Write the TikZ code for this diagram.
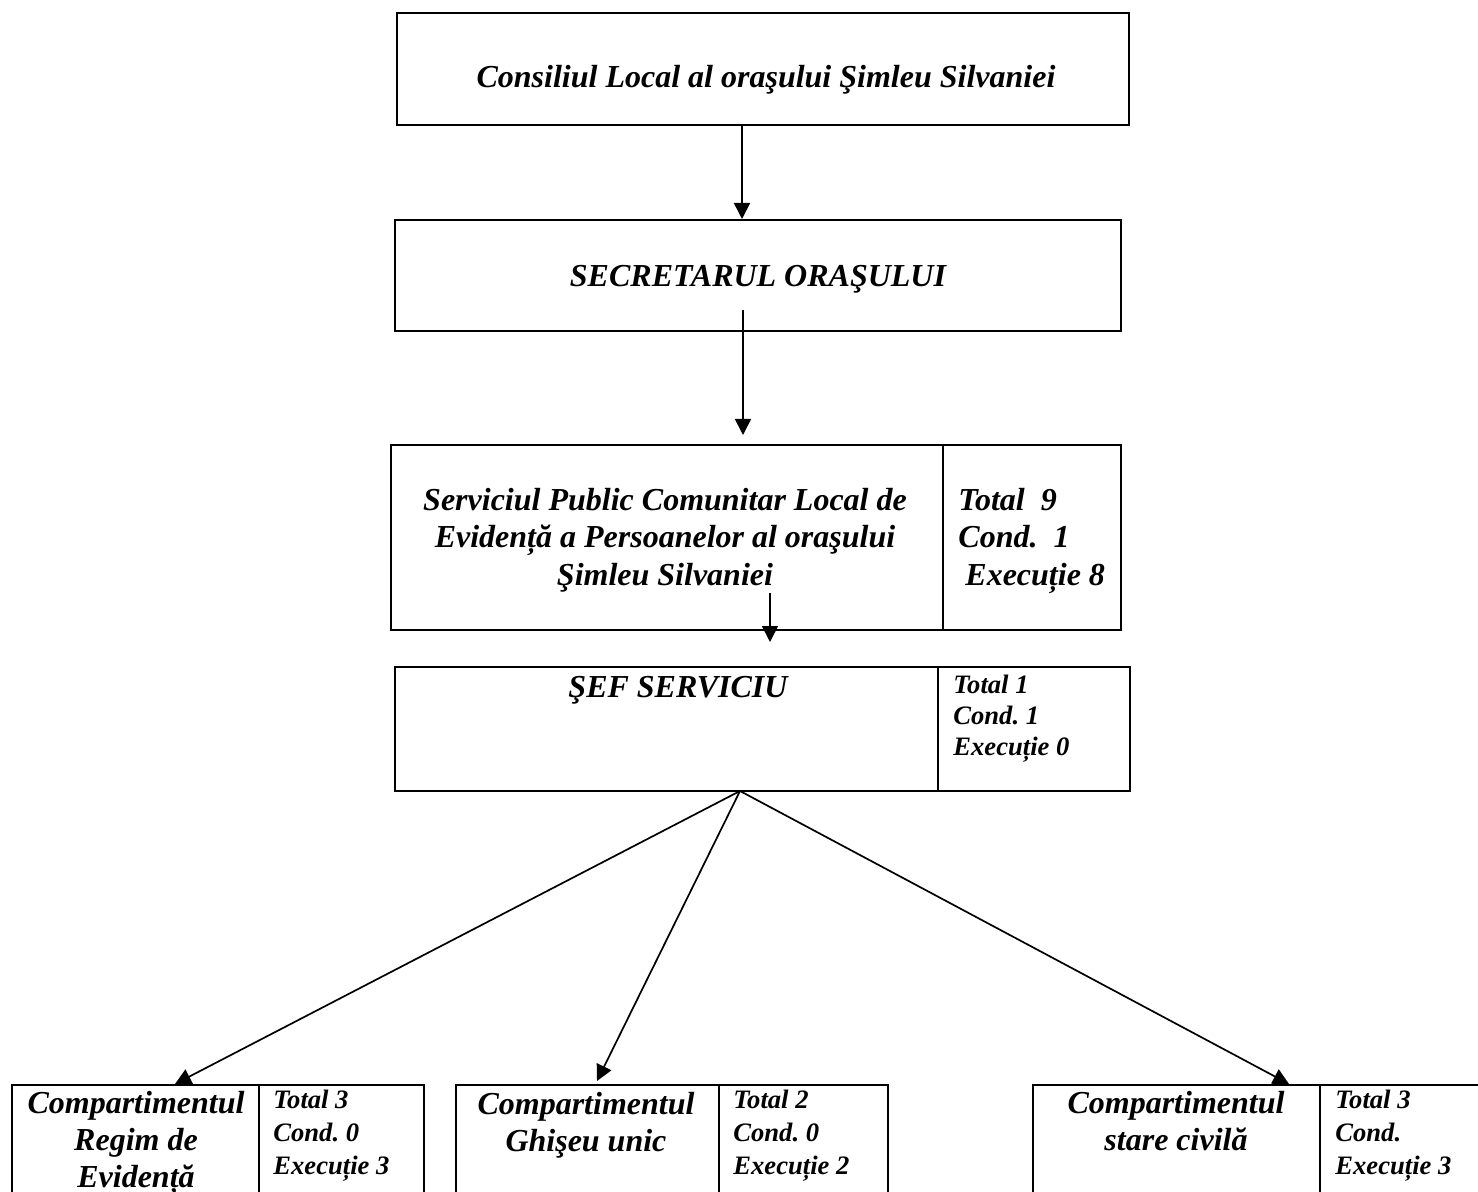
\documentclass[tikz,border=0pt]{standalone}
\usepackage{fontspec}
\setmainfont{Liberation Serif}
\usetikzlibrary{arrows.meta, positioning, calc}

\tikzset{
  orgbox/.style={draw, line width=1pt, inner sep=0pt, anchor=north west},
  orgtext/.style={font=\bfseries\itshape\fontsize{16}{18.75}\selectfont,
                  align=center, anchor=base, inner sep=0pt},
  counttext/.style={font=\bfseries\itshape\fontsize{13.3}{16.5}\selectfont,
                    align=left, anchor=base west, inner sep=0pt},
  conn/.style={line width=0.85pt, -{Triangle[length=8pt,width=8pt]}}
}

\begin{document}
\frenchspacing
\begin{tikzpicture}[x=0.5pt, y=-0.5pt]
    \useasboundingbox (0,0) rectangle (1478,1192);

    % Upper chain of boxes
    \node[orgbox, minimum width=366pt, minimum height=56pt] (consiliu) at (396,12) {};
    \node[orgtext] (consiliutxt) at (766,88) {Consiliul Local al oraşului Şimleu Silvaniei};

    \node[orgbox, minimum width=363pt, minimum height=55.5pt] (secretar) at (394,219) {};
    \node[orgtext] (secretartxt) at (758,287) {SECRETARUL ORAŞULUI};

    % multi-line texts sit on the baseline of their last line
    \node[orgbox, minimum width=276pt, minimum height=92.5pt] (serviciu) at (390,444) {};
    \node[orgbox, minimum width=89pt, minimum height=92.5pt] (servcount) at (942,444) {};
    \node[orgtext] (serviciutxt) at (665,585)
        {Serviciul Public Comunitar Local de\\Evidență a Persoanelor al oraşului\\Şimleu Silvaniei};
    \node[counttext, font=\bfseries\itshape\fontsize{16}{18.75}\selectfont] (servcounttxt) at (958,585)
        {Total~~9\\Cond.~~1\\\hspace*{3.5pt}Execuție 8};

    \node[orgbox, minimum width=271.5pt, minimum height=62pt] (sef) at (394,666) {};
    \node[orgbox, minimum width=96pt, minimum height=62pt] (sefcount) at (937,666) {};
    \node[orgtext] (seftxt) at (678,697) {ŞEF SERVICIU};
    \node[counttext, font=\bfseries\itshape\fontsize{13.3}{15.5}\selectfont] (sefcounttxt) at (953,755)
        {Total 1\\Cond. 1\\Execuție 0};

    % Bottom row (cut by the page edge)
    \node[orgbox, minimum width=123.5pt, minimum height=75pt] (regim) at (11,1084) {};
    \node[orgbox, minimum width=82.5pt, minimum height=75pt] (regimcount) at (258,1084) {};
    \node[orgtext, font=\bfseries\itshape\fontsize{16}{18.5}\selectfont] (regimtxt) at (136,1187)
        {Compartimentul\\Regim de\\Evidență};
    \node[counttext] (regimcounttxt) at (273,1174) {Total 3\\Cond. 0\\Execuție 3};

    \node[orgbox, minimum width=131.5pt, minimum height=75pt] (ghiseu) at (455,1084) {};
    \node[orgbox, minimum width=84.5pt, minimum height=75pt] (ghiseucount) at (718,1084) {};
    \node[orgtext, font=\bfseries\itshape\fontsize{16}{18.5}\selectfont] (ghiseutxt) at (586,1151)
        {Compartimentul\\Ghişeu unic};
    \node[counttext] (ghiseucounttxt) at (733,1174) {Total 2\\Cond. 0\\Execuție 2};

    \node[orgbox, minimum width=143.5pt, minimum height=75pt] (stare) at (1032,1084) {};
    \node[orgbox, minimum width=95pt, minimum height=75pt] (starecount) at (1319,1084) {};
    \node[orgtext, font=\bfseries\itshape\fontsize{16}{18.5}\selectfont] (staretxt) at (1176,1150)
        {Compartimentul\\stare civilă};
    \node[counttext] (starecounttxt) at (1335,1174) {Total 3\\Cond.\\Execuție 3};

    % Connectors
    \coordinate (axis1) at (742,0);
    \coordinate (from2) at (743,310);
    \coordinate (to2) at (743,435);
    \coordinate (from3) at (770,593);
    \coordinate (to3) at (770,642);
    \coordinate (hub) at (740,791);

    \draw[conn] (consiliu.south -| axis1) -- (secretar.north -| axis1);
    \draw[conn] (from2) -- (to2);
    \draw[conn] (from3) -- (to3);
    \draw[conn] (hub) -- ($(regim.north west)+(164,0)$);
    \draw[conn] (hub) -- ($(ghiseu.north west)+(142,-3)$);
    \draw[conn] (hub) -- ($(stare.north west)+(257,0)$);
\end{tikzpicture}
\end{document}
